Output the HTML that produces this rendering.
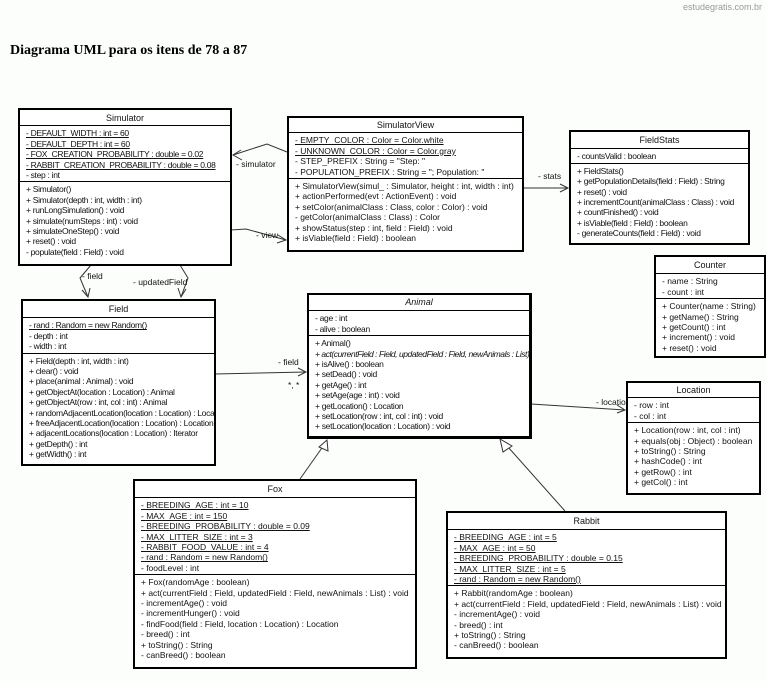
<!DOCTYPE html>
<html><head><meta charset="utf-8"><style>
body{margin:0;width:766px;height:681px;background:#fcfefc;position:relative;overflow:hidden;font-family:"Liberation Sans",sans-serif;}
.b{position:absolute;border:2px solid #000;background:#fff;box-sizing:border-box;font-size:8.5px;line-height:10.4px;color:#111;}
.t{text-align:center;border-bottom:1px solid #000;font-size:9px;}
.s{border-bottom:1px solid #000;padding:2px 0 1px 6px;white-space:nowrap;overflow:hidden;}
.m{padding:2px 0 0 6px;white-space:nowrap;overflow:hidden;}
.c .s,.c .m{letter-spacing:-0.3px;}
.u{text-decoration:underline;}
.lbl{position:absolute;font-size:8.5px;white-space:nowrap;color:#111;}
</style></head><body>
<div style="position:absolute;right:4px;top:2px;font-size:9px;color:#999;">estudegratis.com.br</div>
<div style="position:absolute;left:10px;top:43px;font-family:'Liberation Serif',serif;font-weight:bold;font-size:14px;">Diagrama UML para os itens de 78 a 87</div>

<svg style="position:absolute;left:0;top:0" width="766" height="681" fill="none" stroke="#333" stroke-width="1">
<polyline points="287,152 267,144 233,155"/><polyline points="241,150 233,155 242,160"/>
<polyline points="231,230 246,229 286,240"/><polyline points="278,235 286,240 277,243"/>
<line x1="523" y1="188" x2="568" y2="188"/><polyline points="560,184 568,188 560,192"/>
<polyline points="91,265 80,278 88,297"/><polyline points="82,290 88,297 90,288"/>
<polyline points="180,265 188,278 181,297"/><polyline points="178,288 181,297 186,289"/>
<line x1="215" y1="374" x2="306" y2="372"/><polyline points="298,368 306,372 298,376"/>
<line x1="531" y1="404" x2="625" y2="410"/><polyline points="617,405 625,410 617,413"/>
<line x1="300" y1="479" x2="324" y2="445"/><polygon points="319,447 327,440 328,451" fill="#fff"/>
<line x1="565" y1="511" x2="508" y2="447"/><polygon points="503,452 500,439 512,446" fill="#fff"/>
</svg>
<div class="lbl" style="left:236px;top:159px;">- simulator</div>
<div class="lbl" style="left:256px;top:230px;">- view</div>
<div class="lbl" style="left:538px;top:171px;">- stats</div>
<div class="lbl" style="left:82px;top:271px;">- field</div>
<div class="lbl" style="left:133px;top:277px;">- updatedField</div>
<div class="lbl" style="left:278px;top:357px;">- field</div>
<div class="lbl" style="left:288px;top:380px;">*, *</div>
<div class="lbl" style="left:596px;top:397px;">- locatio</div>

<div class="b c" style="left:18px;top:108px;width:214px;height:158px;">
<div class="t" style="padding:3px 0 2px">Simulator</div>
<div class="s"><span class="u">- DEFAULT_WIDTH : int = 60</span><br><span class="u">- DEFAULT_DEPTH : int = 60</span><br><span class="u">- FOX_CREATION_PROBABILITY : double = 0.02</span><br><span class="u">- RABBIT_CREATION_PROBABILITY : double = 0.08</span><br>- step : int</div>
<div class="m">+ Simulator()<br>+ Simulator(depth : int, width : int)<br>+ runLongSimulation() : void<br>+ simulate(numSteps : int) : void<br>+ simulateOneStep() : void<br>+ reset() : void<br>- populate(field : Field) : void</div>
</div>

<div class="b" style="left:287px;top:116px;width:237px;height:136px;">
<div class="t" style="padding:2px 0 2px">SimulatorView</div>
<div class="s"><span class="u">- EMPTY_COLOR : Color = Color.white</span><br><span class="u">- UNKNOWN_COLOR : Color = Color.gray</span><br>- STEP_PREFIX : String = "Step: "<br>- POPULATION_PREFIX : String = "; Population: "</div>
<div class="m">+ SimulatorView(simul_ : Simulator, height : int, width : int)<br>+ actionPerformed(evt : ActionEvent) : void<br>+ setColor(animalClass : Class, color : Color) : void<br>- getColor(animalClass : Class) : Color<br>+ showStatus(step : int, field : Field) : void<br>+ isViable(field : Field) : boolean</div>
</div>

<div class="b c" style="left:569px;top:130px;width:181px;height:115px;">
<div class="t" style="padding:3px 0 3px">FieldStats</div>
<div class="s">- countsValid : boolean</div>
<div class="m">+ FieldStats()<br>+ getPopulationDetails(field : Field) : String<br>+ reset() : void<br>+ incrementCount(animalClass : Class) : void<br>+ countFinished() : void<br>+ isViable(field : Field) : boolean<br>- generateCounts(field : Field) : void</div>
</div>

<div class="b" style="left:654px;top:255px;width:112px;height:103px;">
<div class="t" style="padding:3px 0 3px">Counter</div>
<div class="s">- name : String<br>- count : int</div>
<div class="m">+ Counter(name : String)<br>+ getName() : String<br>+ getCount() : int<br>+ increment() : void<br>+ reset() : void</div>
</div>

<div class="b c" style="left:21px;top:299px;width:195px;height:167px;">
<div class="t" style="padding:3px 0 3px">Field</div>
<div class="s"><span class="u">- rand : Random = new Random()</span><br>- depth : int<br>- width : int</div>
<div class="m">+ Field(depth : int, width : int)<br>+ clear() : void<br>+ place(animal : Animal) : void<br>+ getObjectAt(location : Location) : Animal<br>+ getObjectAt(row : int, col : int) : Animal<br>+ randomAdjacentLocation(location : Location) : Location<br>+ freeAdjacentLocation(location : Location) : Location<br>+ adjacentLocations(location : Location) : Iterator<br>+ getDepth() : int<br>+ getWidth() : int</div>
</div>

<div class="b c" style="left:307px;top:293px;width:225px;height:146px;border-width:2px 3px 3px 2px;">
<div class="t" style="padding:2px 0 3px;font-style:italic">Animal</div>
<div class="s">- age : int<br>- alive : boolean</div>
<div class="m">+ Animal()<br><i style="letter-spacing:-0.45px">+ act(currentField : Field, updatedField : Field, newAnimals : List) : void</i><br>+ isAlive() : boolean<br>+ setDead() : void<br>+ getAge() : int<br>+ setAge(age : int) : void<br>+ getLocation() : Location<br>+ setLocation(row : int, col : int) : void<br>+ setLocation(location : Location) : void</div>
</div>

<div class="b" style="left:626px;top:381px;width:135px;height:114px;">
<div class="t" style="padding:2px 0 2px">Location</div>
<div class="s">- row : int<br>- col : int</div>
<div class="m">+ Location(row : int, col : int)<br>+ equals(obj : Object) : boolean<br>+ toString() : String<br>+ hashCode() : int<br>+ getRow() : int<br>+ getCol() : int</div>
</div>

<div class="b" style="left:133px;top:479px;width:284px;height:190px;">
<div class="t" style="padding:3px 0 3px">Fox</div>
<div class="s"><span class="u">- BREEDING_AGE : int = 10</span><br><span class="u">- MAX_AGE : int = 150</span><br><span class="u">- BREEDING_PROBABILITY : double = 0.09</span><br><span class="u">- MAX_LITTER_SIZE : int = 3</span><br><span class="u">- RABBIT_FOOD_VALUE : int = 4</span><br><span class="u">- rand : Random = new Random()</span><br>- foodLevel : int</div>
<div class="m">+ Fox(randomAge : boolean)<br>+ act(currentField : Field, updatedField : Field, newAnimals : List) : void<br>- incrementAge() : void<br>- incrementHunger() : void<br>- findFood(field : Field, location : Location) : Location<br>- breed() : int<br>+ toString() : String<br>- canBreed() : boolean</div>
</div>

<div class="b" style="left:446px;top:511px;width:281px;height:148px;">
<div class="t" style="padding:3px 0 3px">Rabbit</div>
<div class="s"><span class="u">- BREEDING_AGE : int = 5</span><br><span class="u">- MAX_AGE : int = 50</span><br><span class="u">- BREEDING_PROBABILITY : double = 0.15</span><br><span class="u">- MAX_LITTER_SIZE : int = 5</span><br><span class="u">- rand : Random = new Random()</span></div>
<div class="m">+ Rabbit(randomAge : boolean)<br>+ act(currentField : Field, updatedField : Field, newAnimals : List) : void<br>- incrementAge() : void<br>- breed() : int<br>+ toString() : String<br>- canBreed() : boolean</div>
</div>
</body></html>
